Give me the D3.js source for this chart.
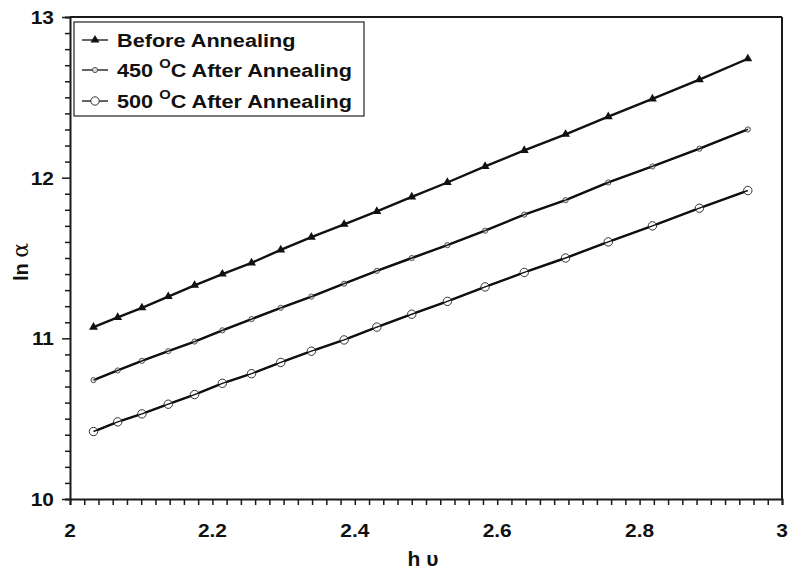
<!DOCTYPE html>
<html>
<head>
<meta charset="utf-8">
<script src="https://cdn.jsdelivr.net/npm/d3@7"></script>
<style>
  html, body { margin: 0; padding: 0; background: #fff; }
  svg { display: block; }
  text { font-family: "Liberation Sans", Arial, sans-serif; font-weight: bold; fill: #111; }
</style>
</head>
<body>
<svg id="chart" width="788" height="569"></svg>
<script>
// Photon energy (eV) of each measured point
const photonEnergy = [2.033, 2.067, 2.101, 2.138, 2.175, 2.214, 2.255, 2.296, 2.339, 2.385,
                      2.431, 2.480, 2.530, 2.583, 2.638, 2.696, 2.756, 2.818, 2.884, 2.952];

// ln(alpha) for each sample
const beforeAnnealing = [11.07, 11.13, 11.19, 11.26, 11.33, 11.40, 11.47, 11.55, 11.63, 11.71,
                         11.79, 11.88, 11.97, 12.07, 12.17, 12.27, 12.38, 12.49, 12.61, 12.74];
const after450 = [10.74, 10.80, 10.86, 10.92, 10.98, 11.05, 11.12, 11.19, 11.26, 11.34,
                  11.42, 11.50, 11.58, 11.67, 11.77, 11.86, 11.97, 12.07, 12.18, 12.30];
const after500 = [10.42, 10.48, 10.53, 10.59, 10.65, 10.72, 10.78, 10.85, 10.92, 10.99,
                  11.07, 11.15, 11.23, 11.32, 11.41, 11.50, 11.60, 11.70, 11.81, 11.92];

const xTicks = [2, 2.2, 2.4, 2.6, 2.8, 3];
const yTicks = [10, 11, 12, 13];

const seriesNames = ["Before Annealing", "450", "500"];

const svg = d3.select("#chart");
const x = d3.scaleLinear().domain([2, 3]).range([70, 782]);
const y = d3.scaleLinear().domain([10, 13]).range([499, 17]);

const axisColor = "#1a1a1a";

// Frame: top and right edges
svg.append("line").attr("x1", x(2)).attr("x2", x(3)).attr("y1", y(13)).attr("y2", y(13))
  .attr("stroke", axisColor).attr("stroke-width", 2);
svg.append("line").attr("x1", x(3)).attr("x2", x(3)).attr("y1", y(13)).attr("y2", y(10))
  .attr("stroke", axisColor).attr("stroke-width", 2);

// X axis: minor ticks every 0.02, labels every 0.2
const xMinor = d3.range(0, 51).map(i => 2 + i * 0.02);
const xAxisG = svg.append("g").attr("transform", `translate(0,${y(10)})`)
  .call(d3.axisBottom(x).tickValues(xMinor).tickSize(6).tickFormat(""));
xAxisG.select(".domain").attr("stroke", axisColor).attr("stroke-width", 2);
xAxisG.selectAll(".tick line").attr("stroke", axisColor).attr("stroke-width", 1.5);

svg.append("g").selectAll("text").data(xTicks).join("text")
  .attr("transform", d => `translate(${x(d)},537) scale(1.1,1)`)
  .attr("text-anchor", "middle").attr("font-size", 19)
  .text(d => d3.format("~g")(d));

// Y axis: minor ticks every 0.1, labels at integers
const yMinor = d3.range(0, 31).map(i => 10 + i * 0.1);
const yAxisG = svg.append("g").attr("transform", `translate(${x(2)},0)`)
  .call(d3.axisLeft(y).tickValues(yMinor).tickSize(5).tickFormat(""));
yAxisG.select(".domain").attr("stroke", axisColor).attr("stroke-width", 2);
yAxisG.selectAll(".tick line").attr("stroke", axisColor).attr("stroke-width", 1.5)
  .attr("x2", d => Math.abs(d - Math.round(d)) < 1e-6 ? -8 : -5);

svg.append("g").selectAll("text").data(yTicks).join("text")
  .attr("transform", d => `translate(54,${y(d) + 7}) scale(1.1,1)`)
  .attr("text-anchor", "end").attr("font-size", 19)
  .text(d => d);

// Axis titles
svg.append("text")
  .attr("transform", `translate(28,${262}) rotate(-90)`)
  .attr("text-anchor", "middle").attr("font-size", 20)
  .call(t => {
    t.append("tspan").text("ln ");
    t.append("tspan").attr("font-family", "'DejaVu Serif', 'Liberation Serif', serif")
      .attr("font-size", 22).attr("font-weight", "normal").text("α");
  });
svg.append("text")
  .attr("x", 423).attr("y", 566)
  .attr("text-anchor", "middle").attr("font-size", 21)
  .attr("font-family", "'Liberation Serif', 'Times New Roman', serif")
  .text("h υ");

// Series
const tri = d3.symbol().type(d3.symbolTriangle).size(34);
const series = [
  { values: beforeAnnealing, marker: "tri" },
  { values: after450, marker: "small" },
  { values: after500, marker: "ring" }
];

const line = d3.line().x(d => x(d[0])).y(d => y(d[1]));

function drawMarker(g, kind, cx, cy) {
  if (kind === "tri") {
    g.append("path").attr("d", tri).attr("transform", `translate(${cx},${cy})`)
      .attr("fill", "#111");
  } else if (kind === "small") {
    g.append("circle").attr("cx", cx).attr("cy", cy).attr("r", 2.6)
      .attr("fill", "#ddd").attr("stroke", "#555").attr("stroke-width", 1);
  } else {
    g.append("circle").attr("cx", cx).attr("cy", cy).attr("r", 4.2)
      .attr("fill", "#fff").attr("stroke", "#333").attr("stroke-width", 1);
  }
}

series.forEach(s => {
  const pts = photonEnergy.map((e, i) => [e, s.values[i]]);
  svg.append("path").datum(pts).attr("d", line)
    .attr("fill", "none").attr("stroke", "#111").attr("stroke-width", 2.4);
  const g = svg.append("g");
  pts.forEach(p => drawMarker(g, s.marker, x(p[0]), y(p[1])));
  // the line runs across the ring markers
  if (s.marker !== "tri") {
    svg.append("path").datum(pts).attr("d", line)
      .attr("fill", "none").attr("stroke", "#111").attr("stroke-width", 1.4);
  }
});

// Legend
const legend = svg.append("g");
legend.append("rect").attr("x", 74).attr("y", 22).attr("width", 290).attr("height", 94)
  .attr("fill", "#fff").attr("stroke", "#222").attr("stroke-width", 1.2);

const legendRows = [
  { marker: "tri", y: 40 },
  { marker: "small", y: 70 },
  { marker: "ring", y: 101 }
];
legendRows.forEach((r, i) => {
  legend.append("line").attr("x1", 82).attr("x2", 108).attr("y1", r.y).attr("y2", r.y)
    .attr("stroke", "#111").attr("stroke-width", 1.3);
  drawMarker(legend, r.marker, 95, r.y);
  const t = legend.append("text")
    .attr("transform", `translate(117,${r.y + 7}) scale(1.14,1)`)
    .attr("font-size", 19);
  if (i === 0) {
    t.text(seriesNames[0]);
  } else {
    t.append("tspan").text(seriesNames[i] + " ");
    t.append("tspan").attr("font-size", 13).attr("dy", -9).text("O");
    t.append("tspan").attr("dy", 9).text("C After Annealing");
  }
});
</script>
</body>
</html>
